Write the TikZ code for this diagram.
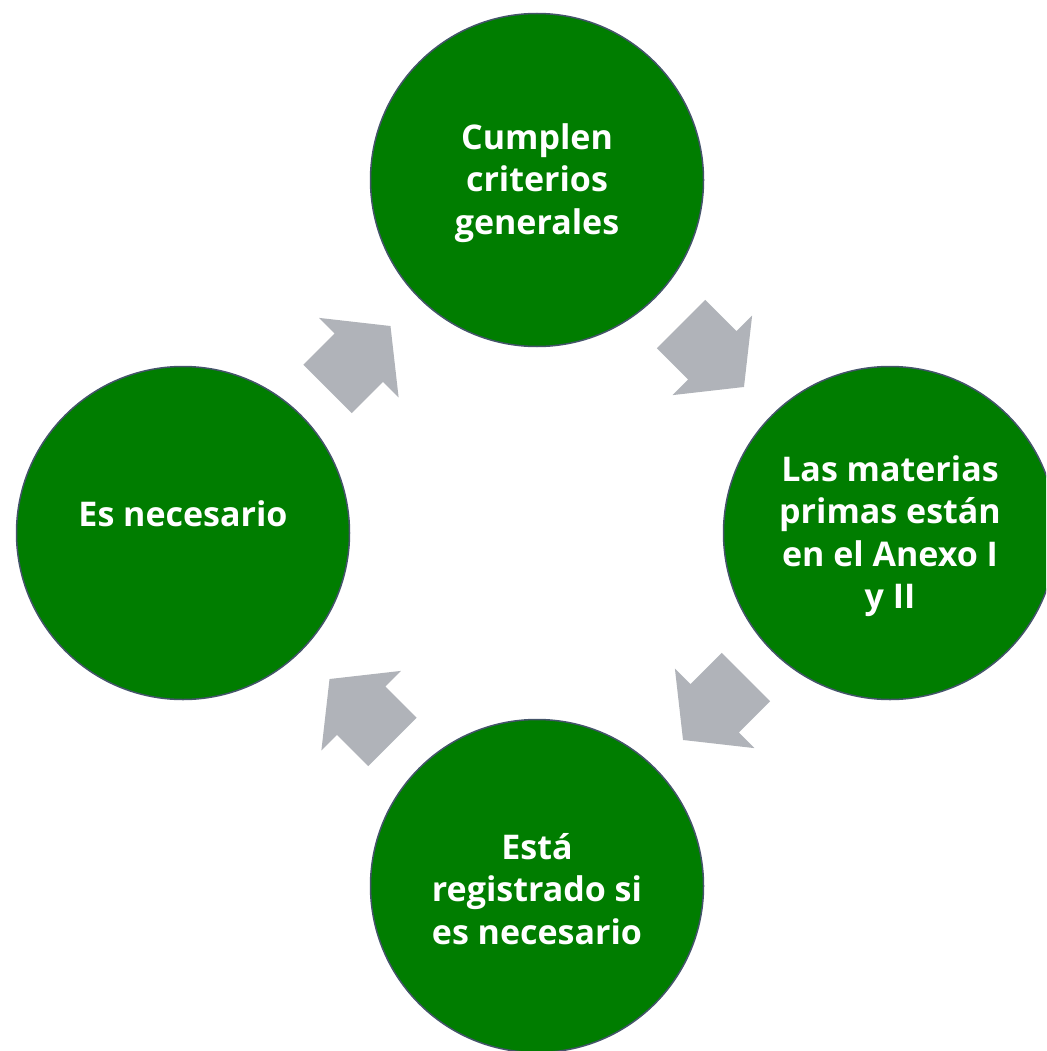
\documentclass[tikz,border=0pt]{standalone}
\usepackage{fontspec}
\setmainfont{Open Sans}
\usetikzlibrary{shapes.arrows, calc}
\definecolor{stagegreen}{RGB}{0, 125, 0}
\definecolor{rimslate}{RGB}{68, 84, 106}
\definecolor{arrowgray}{RGB}{176, 179, 185}
\tikzstyle{stage} = [circle, minimum size=333pt, inner sep=0pt, draw=rimslate, line width=1.5pt, fill=stagegreen]
\tikzstyle{stagetext} = [align=center, text=white, yshift=-3pt, font=\bfseries\fontsize{34}{42.5}\selectfont]
\tikzstyle{cyclearrow} = [single arrow, fill=arrowgray, inner xsep=0pt, inner ysep=34pt, minimum height=89pt, single arrow head extend=22pt, single arrow tip angle=103]
\begin{document}
\begin{tikzpicture}[x=1pt, y=-1pt]
\clip (0,0) rectangle (1046,1051);

% Stages
\node (general) [stage] at (537,180) {};
\node (anexo) [stage] at (890,533) {};
\node (registro) [stage] at (537,886) {};
\node (necesario) [stage] at (183,533) {};

% Stage texts
\node [stagetext] at (general) {Cumplen\\criterios\\generales};
\node [stagetext] at (anexo) {Las materias\\primas están\\en el Anexo I\\y II};
\node [stagetext] at (registro) {Está\\registrado si\\es necesario};
\node [stagetext, yshift=22pt] at (necesario) {Es necesario};

% Arrows
\node (a1) [cyclearrow, rotate=-45, xshift=-15pt] at ($(general)!0.5!(anexo)$) {};
\node (a2) [cyclearrow, rotate=-135, xshift=-15pt] at ($(anexo)!0.5!(registro)$) {};
\node (a3) [cyclearrow, rotate=135, xshift=-15pt] at ($(registro)!0.5!(necesario)$) {};
\node (a4) [cyclearrow, rotate=45, xshift=-15pt] at ($(necesario)!0.5!(general)$) {};

\end{tikzpicture}
\end{document}
